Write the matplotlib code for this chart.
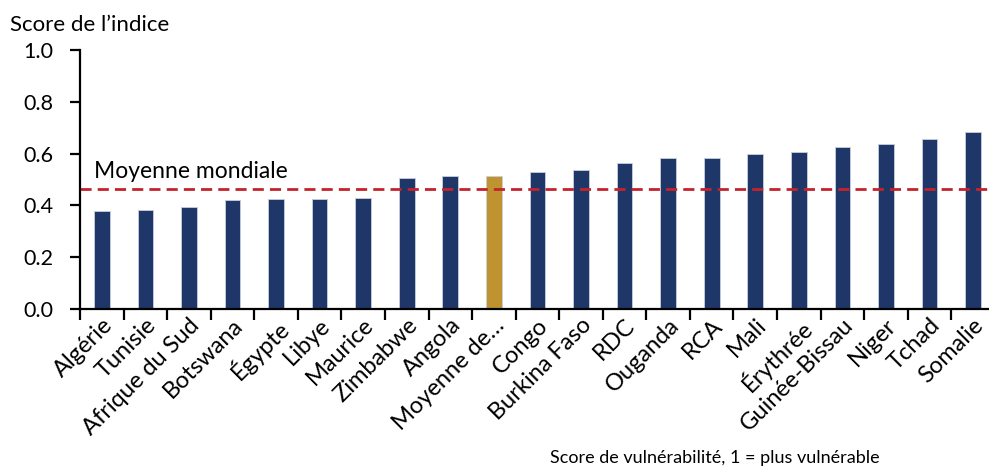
"""Indice de vulnérabilité par pays, avec moyenne mondiale."""

import matplotlib.pyplot as plt
import matplotlib.transforms as mtransforms
import numpy as np
from matplotlib.ticker import FixedLocator

plt.rcParams["font.family"] = ["Lato", "DejaVu Sans"]

countries = [
    "Algérie", "Tunisie", "Afrique du Sud", "Botswana", "Égypte", "Libye",
    "Maurice", "Zimbabwe", "Angola", "Moyenne de…", "Congo", "Burkina Faso",
    "RDC", "Ouganda", "RCA", "Mali", "Érythrée", "Guinée-Bissau", "Niger",
    "Tchad", "Somalie",
]
scores = [
    0.378, 0.383, 0.394, 0.420, 0.425, 0.425, 0.430, 0.507, 0.512, 0.512,
    0.528, 0.538, 0.564, 0.584, 0.584, 0.600, 0.605, 0.625, 0.636, 0.656,
    0.682,
]
highlight = "Moyenne de…"
world_mean = 0.463
y_ticks = [0.0, 0.2, 0.4, 0.6, 0.8, 1.0]

NAVY = "#1f3768"
GOLD = "#bf9430"
RED = "#c4232b"

fig = plt.figure(figsize=(9.89, 4.71), dpi=100)
ax = fig.add_axes([0.0809, 0.344, 0.925, 0.550])

x = np.arange(len(countries))
colors = [GOLD if c == highlight else NAVY for c in countries]
ax.bar(x, scores, width=0.36, color=colors, edgecolor="#c8cfdc", linewidth=0.6)

# world average, dashed across the whole plot
ax.axhline(world_mean, color=RED, linestyle=(0, (4, 2.2)), linewidth=2)
label_trans = mtransforms.blended_transform_factory(ax.transAxes, ax.transData)
ax.text(0.015, world_mean + 0.028, "Moyenne mondiale", fontsize=16.5,
        transform=label_trans, va="bottom", ha="left")

ax.set_xlim(-0.5, len(countries) - 0.5)
ax.set_ylim(0, 1.0)
ax.set_yticks(y_ticks)
ax.set_yticklabels([f"{v:.1f}" for v in y_ticks], fontsize=15.5)

ax.set_xticks(x)
ax.set_xticklabels(countries, rotation=45, ha="right", va="top",
                   rotation_mode="anchor", fontsize=17)
# nudge rotated labels a little to the right, like the original
shift = mtransforms.ScaledTranslation(3 / 100, 0, fig.dpi_scale_trans)
for lbl in ax.get_xticklabels():
    lbl.set_transform(lbl.get_transform() + shift)
ax.tick_params(axis="x", which="major", length=0, pad=4)
ax.xaxis.set_minor_locator(FixedLocator(np.arange(-0.5, len(countries), 1.0)))
ax.tick_params(axis="x", which="minor", length=8, width=1.6, direction="out")
ax.tick_params(axis="y", length=7, width=1.6, direction="out", pad=12)

for side in ("top", "right"):
    ax.spines[side].set_visible(False)
for side in ("left", "bottom"):
    ax.spines[side].set_linewidth(1.6)

fig.text(0.010, 0.925, "Score de l’indice", fontsize=16, ha="left", va="bottom")
fig.text(0.556, 0.010, "Score de vulnérabilité, 1 = plus vulnérable",
         fontsize=13, ha="left", va="bottom")

fig.savefig("out.png", dpi=100)
